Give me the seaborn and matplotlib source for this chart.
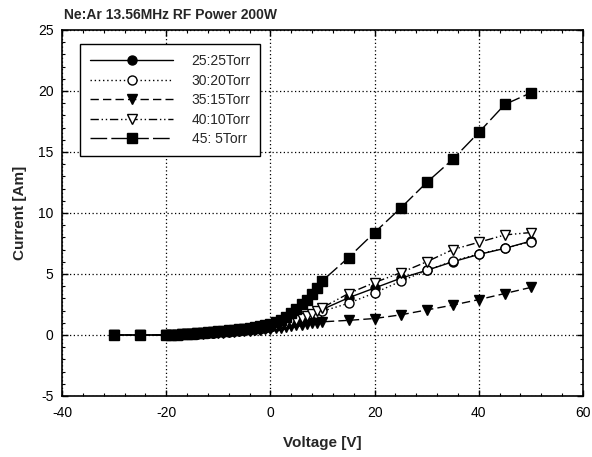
import numpy as np
import pandas as pd
import matplotlib
matplotlib.use("Agg")
import matplotlib.pyplot as plt
from matplotlib.ticker import MultipleLocator
import seaborn as sns

title = "Ne:Ar 13.56MHz RF Power 200W"
labels = ["25:25Torr", "30:20Torr", "35:15Torr", "40:10Torr", "45: 5Torr"]

voltage = [-30, -25,
           -20, -19, -18, -17, -16, -15, -14, -13, -12, -11,
           -10, -9, -8, -7, -6, -5, -4, -3, -2, -1,
           0, 1, 2, 3, 4, 5, 6, 7, 8, 9, 10,
           15, 20, 25, 30, 35, 40, 45, 50]

cur_25_25 = [0.0, 0.0,
             0.0, 0.02, 0.04, 0.06, 0.08, 0.1, 0.12, 0.14, 0.17, 0.2,
             0.23, 0.26, 0.29, 0.33, 0.37, 0.41, 0.46, 0.51, 0.56, 0.62,
             0.68, 0.75, 0.85, 0.95, 1.05, 1.2, 1.35, 1.5, 1.65, 1.85, 2.1,
             3.05, 3.85, 4.65, 5.3, 6.0, 6.6, 7.1, 7.7]
cur_30_20 = [0.0, 0.0,
             0.0, 0.02, 0.03, 0.05, 0.07, 0.09, 0.11, 0.13, 0.15, 0.18,
             0.21, 0.24, 0.27, 0.3, 0.34, 0.38, 0.42, 0.47, 0.52, 0.57,
             0.63, 0.7, 0.78, 0.87, 0.97, 1.1, 1.23, 1.37, 1.52, 1.7, 1.95,
             2.6, 3.45, 4.4, 5.3, 6.05, 6.65, 7.1, 7.65]
cur_35_15 = [0.0, 0.0,
             0.0, 0.01, 0.03, 0.04, 0.06, 0.08, 0.1, 0.12, 0.14, 0.16,
             0.18, 0.2, 0.23, 0.26, 0.29, 0.32, 0.35, 0.38, 0.42, 0.46,
             0.5, 0.55, 0.6, 0.66, 0.72, 0.78, 0.84, 0.9, 0.96, 1.02, 1.08,
             1.2, 1.35, 1.65, 2.05, 2.45, 2.9, 3.4, 3.9]
cur_40_10 = [0.0, 0.0,
             0.0, 0.02, 0.04, 0.06, 0.08, 0.1, 0.13, 0.16, 0.19, 0.22,
             0.25, 0.28, 0.32, 0.36, 0.4, 0.45, 0.5, 0.56, 0.62, 0.68,
             0.75, 0.83, 0.92, 1.02, 1.13, 1.25, 1.4, 1.56, 1.74, 1.95, 2.25,
             3.4, 4.3, 5.1, 6.0, 7.0, 7.6, 8.2, 8.4]
cur_45_5 = [0.0, 0.0,
            0.0, 0.02, 0.04, 0.06, 0.09, 0.12, 0.15, 0.18, 0.21, 0.25,
            0.29, 0.33, 0.37, 0.42, 0.47, 0.53, 0.59, 0.66, 0.73, 0.8,
            0.9, 1.05, 1.25, 1.5, 1.8, 2.15, 2.5, 2.9, 3.35, 3.85, 4.45,
            6.35, 8.4, 10.4, 12.5, 14.4, 16.6, 18.9, 19.85]

series = [cur_25_25, cur_30_20, cur_35_15, cur_40_10, cur_45_5]
markers = ["o", "o", "v", "v", "s"]
faces = ["black", "white", "black", "white", "black"]
styles = ["-", (0, (1, 2)), (0, (6, 3)), (0, (6, 2, 1, 2, 1, 2)), (0, (12, 3))]

sns.set_style("ticks")
plt.rcParams["font.family"] = ["Liberation Sans", "DejaVu Sans"]
plt.rcParams["axes.unicode_minus"] = False

fig = plt.figure(figsize=(5.92, 4.57), dpi=100)
ax = fig.add_axes([0.1047, 0.1335, 0.8801, 0.8009])

for lab, y, m, fc, ls in zip(labels, series, markers, faces, styles):
    df = pd.DataFrame({"Voltage": voltage, "Current": y})
    sns.lineplot(data=df, x="Voltage", y="Current", ax=ax, sort=False,
                 estimator=None, color="black", linestyle=ls, linewidth=1.0,
                 marker=m, markersize=6.5, markerfacecolor=fc,
                 markeredgecolor="black", markeredgewidth=1.0, label=lab)

ax.set_xlim(-40, 60)
ax.set_ylim(-5, 25)
ax.xaxis.set_major_locator(MultipleLocator(20))
ax.xaxis.set_minor_locator(MultipleLocator(4))
ax.yaxis.set_major_locator(MultipleLocator(5))
ax.yaxis.set_minor_locator(MultipleLocator(1))
ax.tick_params(which="both", direction="in", top=True, right=True,
               colors="black", labelsize=10)
ax.tick_params(which="major", length=4, width=1)
ax.tick_params(which="minor", length=2, width=0.8)
ax.tick_params(axis="x", which="major", pad=7)
ax.tick_params(axis="y", which="major", pad=6)
ax.grid(True, which="major", linestyle=(0, (1, 2)), color="black", linewidth=0.9)
for s in ax.spines.values():
    s.set_color("black")
    s.set_linewidth(1.2)

ax.set_xlabel("Voltage [V]", fontsize=11, fontweight="bold", labelpad=12)
ax.set_ylabel("Current [Am]", fontsize=11, fontweight="bold", labelpad=8)
fig.text(0.108, 0.968, title, fontsize=10, fontweight="bold", ha="left", va="center")

leg = ax.legend(loc="upper left", bbox_to_anchor=(0.022, 0.98), fontsize=10,
                handlelength=6.0, frameon=True, fancybox=False, edgecolor="black",
                framealpha=1, borderpad=0.7, labelspacing=0.4, handletextpad=1.3)
leg.get_frame().set_linewidth(1.0)

fig.savefig("out.png", dpi=100)
